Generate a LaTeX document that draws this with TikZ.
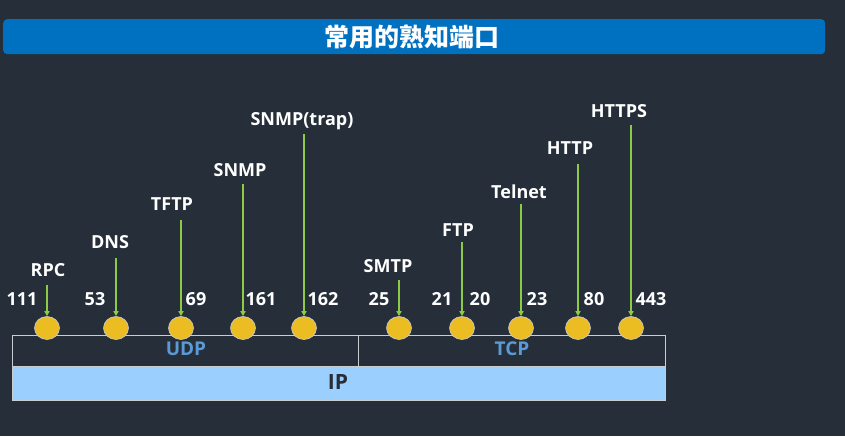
\documentclass[tikz,border=0pt]{standalone}
\usepackage{fontspec}
\setmainfont{Open Sans}
\newfontfamily\cjk{Noto Sans CJK SC}
\usetikzlibrary{arrows.meta,shapes.geometric}
\definecolor{bgc}{HTML}{252E39}
\definecolor{titleblue}{HTML}{0070C0}
\definecolor{portyellow}{HTML}{EBBD22}
\definecolor{arrgreen}{HTML}{8CCB44}
\definecolor{lblblue}{HTML}{5B9BD5}
\definecolor{ipblue}{HTML}{9BCFFD}
\definecolor{boxline}{HTML}{C8CDD2}
\begin{document}
\begin{tikzpicture}[x=1pt,y=-1pt,
  port/.style={ellipse,draw=boxline,line width=0.6pt,fill=portyellow,minimum width=25pt,minimum height=23pt,inner sep=0pt},
  num/.style={text=white,font=\bfseries\fontsize{18}{20}\selectfont,inner sep=0pt},
  proto/.style={text=white,font=\bfseries\fontsize{18}{20}\selectfont,inner sep=0pt},
  arr/.style={draw=arrgreen,line width=1.5pt,-{Triangle[length=5pt,width=5pt]}}]
\fill[bgc] (0,0) rectangle (845,436);
\useasboundingbox (0,0) rectangle (845,436);
% title
\node[fill=titleblue,rounded corners=4pt,minimum width=822pt,minimum height=35pt,inner sep=0pt,anchor=north west] (title) at (3,19) {};
\node[text=white,font=\cjk\bfseries\fontsize{25}{28}\selectfont] (ttext) at (412,37) {常用的熟知端口};
% boxes
\node[draw=boxline,line width=0.8pt,minimum width=346pt,minimum height=31pt,inner sep=0pt,anchor=north west] (udp) at (12,335) {};
\node[draw=boxline,line width=0.8pt,minimum width=307pt,minimum height=31pt,inner sep=0pt,anchor=north west] (tcp) at (358,335) {};
\node[draw=boxline,line width=0.8pt,fill=ipblue,minimum width=653pt,minimum height=34pt,inner sep=0pt,anchor=north west] (ip) at (12,366) {};
\node[text=lblblue,font=\bfseries\fontsize{19}{21}\selectfont] (udpl) at (186,349) {UDP};
\node[text=lblblue,font=\bfseries\fontsize{19}{21}\selectfont] (tcpl) at (512,349) {TCP};
\node[text=bgc,font=\bfseries\fontsize{21}{23}\selectfont] (ipl) at (338,382) {IP};
% ports
\foreach \n/\x in {p1/47,p2/116,p3/181,p4/243,p5/304,p6/399,p7/462,p8/521,p9/578,p10/631}
  \node[port] (\n) at (\x,328) {};
% numbers
\node[num] (n111) at (22,299) {111};
\node[num] (n53) at (95,299) {53};
\node[num] (n69) at (196,299) {69};
\node[num] (n161) at (261,299) {161};
\node[num] (n162) at (323,299) {162};
\node[num] (n25) at (379,299) {25};
\node[num] (n21) at (442,299) {21};
\node[num] (n20) at (480,299) {20};
\node[num] (n23) at (537,299) {23};
\node[num] (n80) at (594,299) {80};
\node[num] (n443) at (651,299) {443};
% protocol labels
\node[proto] (rpc) at (48,270) {RPC};
\node[proto] (dns) at (110,242) {DNS};
\node[proto] (tftp) at (172,204) {TFTP};
\node[proto] (snmp) at (240,170) {SNMP};
\node[proto] (snmpt) at (302,121) {SNMP(trap)};
\node[proto] (smtp) at (388,266) {SMTP};
\node[proto] (ftp) at (458,230) {FTP};
\node[proto] (telnet) at (519,192) {Telnet};
\node[proto] (http) at (570,148) {HTTP};
\node[proto] (https) at (619,111) {HTTPS};
% arrow starts
\coordinate (a1) at (47,285);
\coordinate (a2) at (116,258);
\coordinate (a3) at (181,220);
\coordinate (a4) at (243,184);
\coordinate (a5) at (304,134);
\coordinate (a6) at (399,280);
\coordinate (a7) at (462,242);
\coordinate (a8) at (521,204);
\coordinate (a9) at (578,164);
\coordinate (a10) at (631,125);
\foreach \i in {1,...,10}
  \draw[arr] (a\i) -- (p\i.north);
\end{tikzpicture}
\end{document}
